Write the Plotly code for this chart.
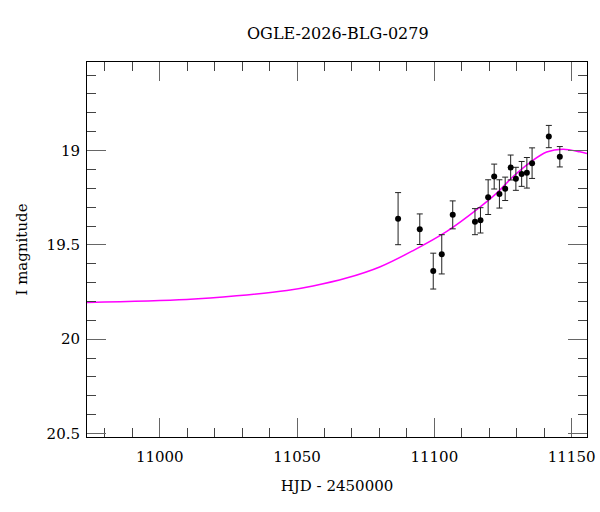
import plotly.graph_objects as go

# photometry points (HJD - 2450000, I mag, error)
hjd = [11086.8, 11094.7, 11099.6, 11102.7, 11106.7, 11114.8, 11116.8, 11119.6, 11121.8,
       11123.7, 11125.8, 11127.8, 11129.7, 11131.8, 11133.7, 11135.6, 11141.7, 11145.7]
mag = [19.361, 19.417, 19.639, 19.550, 19.341, 19.377, 19.370, 19.247, 19.138,
       19.230, 19.203, 19.090, 19.150, 19.124, 19.118, 19.067, 18.926, 19.033]
err = [0.138, 0.081, 0.095, 0.104, 0.074, 0.069, 0.067, 0.092, 0.066,
       0.075, 0.062, 0.066, 0.061, 0.066, 0.081, 0.081, 0.059, 0.054]

# model curve
model_t = [10973.4, 11009.8, 11028.0, 11046.3, 11055.8, 11068.0, 11080.1, 11092.3, 11104.4,
           11116.6, 11122.7, 11128.7, 11134.8, 11140.9, 11146.9, 11153.0, 11155.6]
model_mag = [19.805, 19.789, 19.770, 19.742, 19.718, 19.676, 19.617, 19.530, 19.430,
             19.300, 19.226, 19.138, 19.064, 19.008, 18.993, 19.007, 19.016]

font_name = "DejaVu Serif"

fig = go.Figure()

fig.add_trace(go.Scatter(
    x=model_t, y=model_mag, mode="lines",
    line=dict(color="#ff00ff", width=1.5, shape="spline"),
    hoverinfo="skip", showlegend=False
))

fig.add_trace(go.Scatter(
    x=hjd, y=mag, mode="markers",
    marker=dict(color="black", size=6),
    error_y=dict(type="data", array=err, visible=True, color="#222", thickness=1, width=3),
    showlegend=False
))

axis_common = dict(
    showgrid=False, zeroline=False, automargin=False,
    showline=True, linecolor="black", linewidth=1, mirror="allticks",
    ticks="inside", tickcolor="#666", tickwidth=1, ticklen=19,
    tickfont=dict(family=font_name, size=15, color="black"),
    ticklabeloverflow="allow",
)

fig.update_xaxes(
    range=[10973.5, 11155.6], dtick=50, tick0=11000, tickformat="d",
    ticklabelstandoff=6,
    minor=dict(ticks="inside", dtick=10, tick0=11000, ticklen=9, tickcolor="#444", showgrid=False),
    title=dict(text="HJD - 2450000", font=dict(family=font_name, size=15, color="black")),
    **axis_common
)
fig.update_yaxes(
    range=[20.518, 18.531], dtick=0.5, tick0=19,
    ticklabelstandoff=3,
    minor=dict(ticks="inside", dtick=0.1, tick0=19, ticklen=9, tickcolor="#444", showgrid=False),
    title=dict(text="I magnitude", font=dict(family=font_name, size=15, color="black")),
    **axis_common
)

fig.update_layout(
    title=dict(text="OGLE-2026-BLG-0279", x=0.563, xanchor="center", y=0.935, yanchor="middle",
               font=dict(family=font_name, size=16, color="black")),
    width=600, height=512,
    margin=dict(l=87, r=13, t=62, b=75),
    plot_bgcolor="white", paper_bgcolor="white",
)

# drop the default body margin so the 600x512 figure fills the window
fig.write_html("out.html", config={"displayModeBar": False},
               post_script="document.body.style.margin='0';document.body.style.overflow='hidden';")
